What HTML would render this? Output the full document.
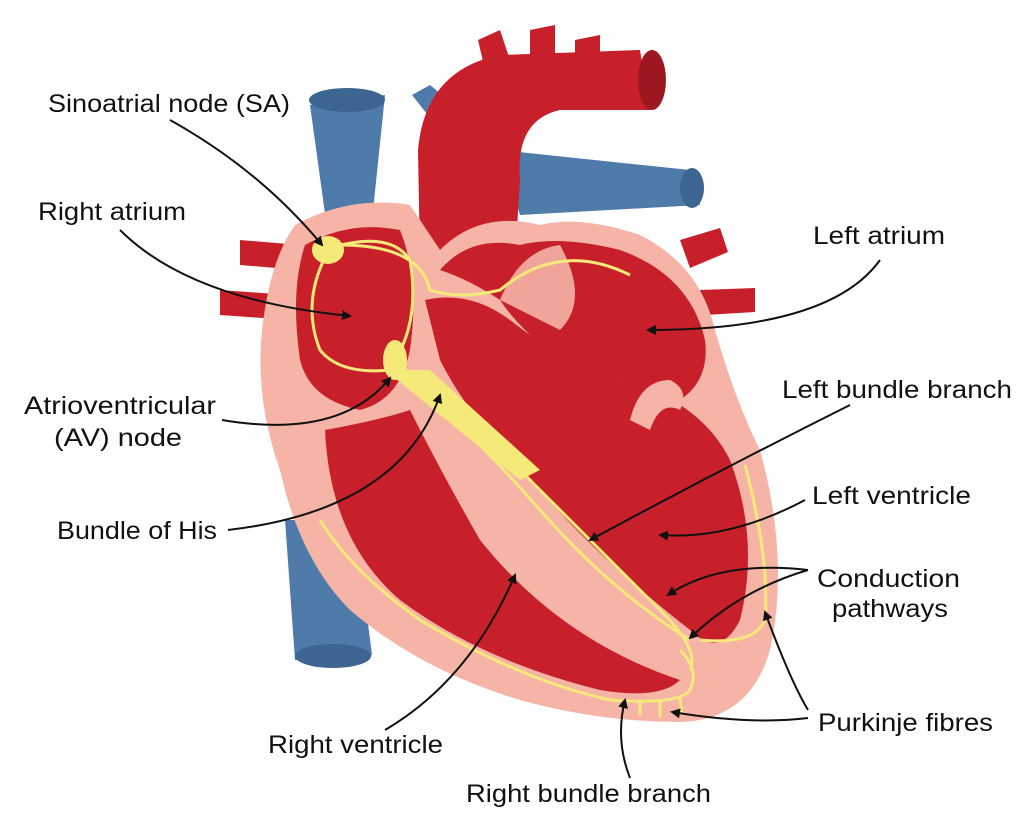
<!DOCTYPE html>
<html><head><meta charset="utf-8"><style>
html,body{margin:0;padding:0;background:#fff;}
svg{display:block;}
text{font-family:"Liberation Sans",sans-serif;font-size:25px;fill:#111;}
</style></head><body>
<svg width="1024" height="826" viewBox="0 0 1024 826" xmlns="http://www.w3.org/2000/svg">
<defs>
<marker id="ah" markerWidth="10" markerHeight="10" refX="8" refY="5" orient="auto" markerUnits="userSpaceOnUse">
<path d="M0,0 L10,5 L0,10 z" fill="#111"/></marker>
</defs>
<path d="M310,105 L385,95 L370,240 L330,250 Z" fill="#4f7bab"/>
<ellipse cx="347" cy="100" rx="38" ry="12" fill="#3d6592"/>
<path d="M285,520 L355,520 L372,655 L295,660 Z" fill="#4f7bab"/>
<ellipse cx="333" cy="656" rx="38" ry="12" fill="#3d6592"/>
<path d="M412,95 L430,85 L510,150 L495,200 Z" fill="#4f7bab"/>
<path d="M500,150 L690,170 L700,205 L520,215 Z" fill="#4f7bab"/>
<ellipse cx="692" cy="188" rx="12" ry="20" fill="#3d6592"/>
<path d="M420,260 L418,150 Q425,70 500,55 L640,50 L650,110 L560,110 Q515,120 520,180 L515,260 Z" fill="#c8202a"/>
<path d="M478,40 L500,30 L510,60 L485,70 Z" fill="#c8202a"/>
<path d="M530,30 L555,25 L555,55 L530,55 Z" fill="#c8202a"/>
<path d="M575,40 L600,35 L600,65 L575,65 Z" fill="#c8202a"/>
<ellipse cx="652" cy="80" rx="14" ry="30" fill="#9d1820"/>
<path d="M240,240 L300,245 L300,270 L240,265 Z" fill="#c8202a"/>
<path d="M220,290 L290,295 L290,320 L220,315 Z" fill="#c8202a"/>
<path d="M680,240 L720,228 L728,252 L690,268 Z" fill="#c8202a"/>
<path d="M700,290 L755,288 L755,312 L705,315 Z" fill="#c8202a"/>
<path d="M295,225 Q350,195 410,205 L440,250 Q480,210 540,225 Q580,215 640,235 Q700,265 715,330 Q735,400 760,450 Q790,560 770,650 Q750,720 680,722 Q600,722 520,700 Q420,670 350,610 Q300,560 280,470 Q255,400 262,330 Q270,260 295,225 Z" fill="#f5b4a6"/>
<path d="M305,245 Q350,220 400,230 Q420,280 410,350 Q400,400 360,410 Q310,400 300,360 Q290,290 305,245 Z" fill="#c8202a"/>
<path d="M440,270 Q470,235 520,245 Q560,235 620,250 Q690,275 705,340 Q710,380 680,400 L560,360 Q520,330 500,300 Q470,280 440,270 Z" fill="#c8202a"/>
<path d="M325,430 Q380,420 410,410 Q440,470 480,540 Q560,640 680,680 Q660,700 600,690 Q480,660 400,600 Q330,540 325,430 Z" fill="#c8202a"/>
<path d="M425,300 Q470,290 510,320 Q560,360 620,380 Q700,400 730,460 Q760,540 740,620 Q720,660 690,630 Q600,560 540,490 Q470,420 440,360 Z" fill="#c8202a"/>
<path d="M500,300 Q520,250 560,245 Q590,300 560,330 Z" fill="#f5b4a6" opacity="0.9"/>
<path d="M630,420 Q640,380 670,380 Q690,390 680,410 Q660,400 650,430 Z" fill="#f5b4a6"/>
<g fill="none" stroke="#f5e97a" stroke-width="3">
<path d="M330,248 Q300,300 320,350 Q340,375 390,370"/>
<path d="M330,248 Q390,230 410,260 Q420,320 395,360"/>
<path d="M340,245 Q420,245 430,290 Q460,300 500,290 Q560,240 630,275"/>
<path d="M400,365 Q440,400 520,470 Q590,540 660,610 Q700,650 690,670"/>
<path d="M400,370 Q470,430 540,510 Q610,590 690,640"/>
<path d="M745,465 Q770,560 765,620 Q755,645 700,640"/>
<path d="M320,520 Q350,570 420,620 Q520,680 610,700 Q680,705 690,690 Q700,670 680,650"/>
<path d="M640,700 L640,715 M660,700 L660,718 M680,698 L682,715"/>
</g>
<path d="M385,370 L430,370 L540,470 L520,480 Z" fill="#f5e97a"/>
<ellipse cx="328" cy="250" rx="16" ry="14" fill="#f5e97a"/>
<ellipse cx="395" cy="360" rx="12" ry="20" fill="#f5e97a"/>
<text x="48" y="112" textLength="242" lengthAdjust="spacingAndGlyphs">Sinoatrial node (SA)</text>
<text x="38" y="220" textLength="148" lengthAdjust="spacingAndGlyphs">Right atrium</text>
<text x="24" y="414" textLength="192" lengthAdjust="spacingAndGlyphs">Atrioventricular</text>
<text x="54" y="446" textLength="128" lengthAdjust="spacingAndGlyphs">(AV) node</text>
<text x="57" y="539" textLength="160" lengthAdjust="spacingAndGlyphs">Bundle of His</text>
<text x="268" y="753" textLength="175" lengthAdjust="spacingAndGlyphs">Right ventricle</text>
<text x="466" y="802" textLength="245" lengthAdjust="spacingAndGlyphs">Right bundle branch</text>
<text x="813" y="244" textLength="132" lengthAdjust="spacingAndGlyphs">Left atrium</text>
<text x="782" y="398" textLength="230" lengthAdjust="spacingAndGlyphs">Left bundle branch</text>
<text x="812" y="504" textLength="159" lengthAdjust="spacingAndGlyphs">Left ventricle</text>
<text x="817" y="587" textLength="143" lengthAdjust="spacingAndGlyphs">Conduction</text>
<text x="832" y="617" textLength="116" lengthAdjust="spacingAndGlyphs">pathways</text>
<text x="818" y="731" textLength="175" lengthAdjust="spacingAndGlyphs">Purkinje fibres</text>
<g fill="none" stroke="#111" stroke-width="2" marker-end="url(#ah)">
<path d="M170,120 Q260,170 322,245"/>
<path d="M120,230 Q190,300 350,316"/>
<path d="M222,420 Q340,440 390,378"/>
<path d="M228,530 Q400,510 440,395"/>
<path d="M385,730 Q470,680 515,575"/>
<path d="M630,778 Q615,740 625,700"/>
<path d="M880,260 Q830,330 648,330"/>
<path d="M850,405 Q720,470 590,540"/>
<path d="M805,500 Q730,540 660,535"/>
<path d="M808,570 Q720,560 668,595"/>
<path d="M808,570 Q740,590 690,638"/>
<path d="M808,710 Q790,680 765,612"/>
<path d="M808,718 Q750,725 672,712"/>
</g>
</svg>
</body></html>
